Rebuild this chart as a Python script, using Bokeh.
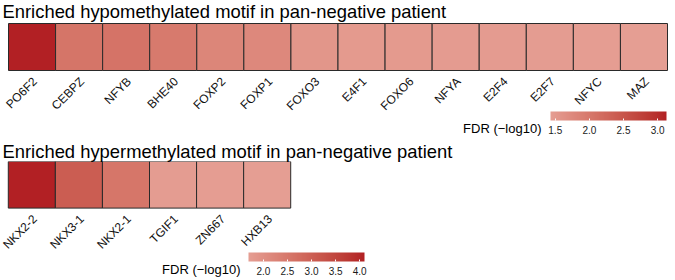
import math
import numpy as np
from bokeh.plotting import figure
from bokeh.models import (ColumnDataSource, LinearColorMapper, ColorBar, FixedTicker,
                          PrintfTickFormatter, Label, Range1d, FactorRange)
from bokeh.embed import file_html
from bokeh.resources import INLINE

# ---------------- data ----------------
hypo_title = "Enriched hypomethylated motif in pan-negative patient"
hypo_motifs = ["PO6F2", "CEBPZ", "NFYB", "BHE40", "FOXP2", "FOXP1", "FOXO3",
               "E4F1", "FOXO6", "NFYA", "E2F4", "E2F7", "NFYC", "MAZ"]
hypo_fdr = [3.13, 2.05, 2.08, 1.98, 1.80, 1.76, 1.56,
            1.50, 1.50, 1.47, 1.47, 1.46, 1.45, 1.43]
hypo_ticks = [1.5, 2.0, 2.5, 3.0]

hyper_title = "Enriched hypermethylated motif in pan-negative patient"
hyper_motifs = ["NKX2-2", "NKX3-1", "NKX2-1", "TGIF1", "ZN667", "HXB13"]
hyper_fdr = [4.10, 3.05, 2.55, 1.74, 1.72, 1.69]
hyper_ticks = [2.0, 2.5, 3.0, 3.5, 4.0]

legend_title = "FDR (\u2212log10)"

LOW = "#E59E93"
HIGH = "#B22024"
FONT = "Liberation Sans"
W = 675


# ---------------- palette (Lab interpolation like ggplot) ----------------
def hex2rgb(h):
    h = h.lstrip("#")
    return np.array([int(h[i:i + 2], 16) for i in (0, 2, 4)]) / 255.0


def rgb2lab(c):
    c = np.where(c > 0.04045, ((c + 0.055) / 1.055) ** 2.4, c / 12.92)
    M = np.array([[0.4124, 0.3576, 0.1805], [0.2126, 0.7152, 0.0722], [0.0193, 0.1192, 0.9505]])
    xyz = M @ c / np.array([0.95047, 1.0, 1.08883])
    f = np.where(xyz > 0.008856, np.cbrt(xyz), 7.787 * xyz + 16 / 116)
    return np.array([116 * f[1] - 16, 500 * (f[0] - f[1]), 200 * (f[1] - f[2])])


def lab2hex(lab):
    L, a, b = lab
    fy = (L + 16) / 116
    fx = fy + a / 500
    fz = fy - b / 200
    f = np.array([fx, fy, fz])
    xyz = np.where(f ** 3 > 0.008856, f ** 3, (f - 16 / 116) / 7.787) * np.array([0.95047, 1.0, 1.08883])
    Mi = np.array([[3.2406, -1.5372, -0.4986], [-0.9689, 1.8758, 0.0415], [0.0557, -0.2040, 1.0570]])
    c = Mi @ xyz
    c = np.where(c > 0.0031308, 1.055 * np.clip(c, 0, None) ** (1 / 2.4) - 0.055, 12.92 * c)
    c = np.clip(np.round(c * 255), 0, 255).astype(int)
    return "#%02x%02x%02x" % tuple(c)


l0, l1 = rgb2lab(hex2rgb(LOW)), rgb2lab(hex2rgb(HIGH))
palette = [lab2hex(l0 + (l1 - l0) * t) for t in np.linspace(0, 1, 256)]

PAD_PX = 8                      # space left of the first cell
CELL = (W - 2 * PAD_PX) / 14.0  # pixel width of one heatmap cell
BAND = 47.0                     # pixel height of the heatmap row


def panel(motifs, fdr, ticks, height, frame_h, top_px, cb_loc, lab_right, lab_dy,
          title=None):
    src = ColumnDataSource(dict(motif=motifs, fdr=fdr))
    mapper = LinearColorMapper(palette=palette, low=min(fdr), high=max(fdr))
    frame_w = int(round(len(motifs) * CELL + 2 * PAD_PX))
    pad = (frame_w / CELL - len(motifs)) / 2.0
    cells_left = pad * CELL
    below_px = frame_h - top_px - BAND
    p = figure(width=W, height=height,
               x_range=FactorRange(*motifs, range_padding=pad, range_padding_units="absolute"),
               y_range=Range1d(-below_px / BAND, 1 + top_px / BAND),
               output_backend="svg", toolbar_location=None,
               x_axis_location=None, y_axis_location=None,
               min_border_left=0, min_border_top=0, min_border_bottom=0,
               min_border_right=W - frame_w)
    p.outline_line_color = None
    p.grid.visible = False
    p.rect(x="motif", y=0.5, width=1, height=1, source=src,
           fill_color={"field": "fdr", "transform": mapper},
           line_color="#2a2a2a", line_width=1)
    p.text(x="motif", y=0, text="motif", source=src, angle=math.pi / 4,
           x_offset=-2, y_offset=4, text_align="right", text_baseline="top",
           text_font={"value": FONT}, text_font_size="12px", text_color="#111111")

    if title is not None:
        p.title.text = title
        p.title.text_font = FONT
        p.title.text_font_size = "18.4px"
        p.title.text_font_style = "normal"
        p.title.text_color = "black"
        p.title.align = "left"
        p.title.standoff = 0
        p.title.offset = 2

    p.add_layout(Label(x=(lab_right - cells_left) / CELL, y=0, y_offset=lab_dy,
                       text=legend_title, text_font=FONT, text_font_size="13px",
                       text_color="black", text_baseline="middle", text_align="right"))

    cb = ColorBar(color_mapper=mapper, orientation="horizontal", width=116, height=9,
                  location=cb_loc, padding=0, margin=0, ticker=FixedTicker(ticks=ticks),
                  formatter=PrintfTickFormatter(format="%.1f"),
                  major_label_text_font=FONT, major_label_text_font_size="10px",
                  major_label_text_color="#1a1a1a", label_standoff=5,
                  major_tick_line_color="white", major_tick_in=2, major_tick_out=0,
                  minor_tick_line_color=None, bar_line_color=None,
                  background_fill_color=None, border_line_color=None)
    p.add_layout(cb, "center")
    return p, cells_left


top, top_left = panel(hypo_motifs, hypo_fdr, hypo_ticks, 138, 138, 23,
                      (550, 2), 541, -58)
top.add_layout(Label(x=0, y=1, x_offset=2 - top_left, y_offset=12.5, text=hypo_title,
                     text_font=FONT, text_font_size="18.4px", text_color="black",
                     text_baseline="alphabetic", text_align="left"))

bottom, _ = panel(hyper_motifs, hyper_fdr, hyper_ticks, 142, 120, 0,
                  (248, 3), 240, -61, title=hyper_title)

open("out.html", "w").write(file_html([top, bottom], INLINE))
